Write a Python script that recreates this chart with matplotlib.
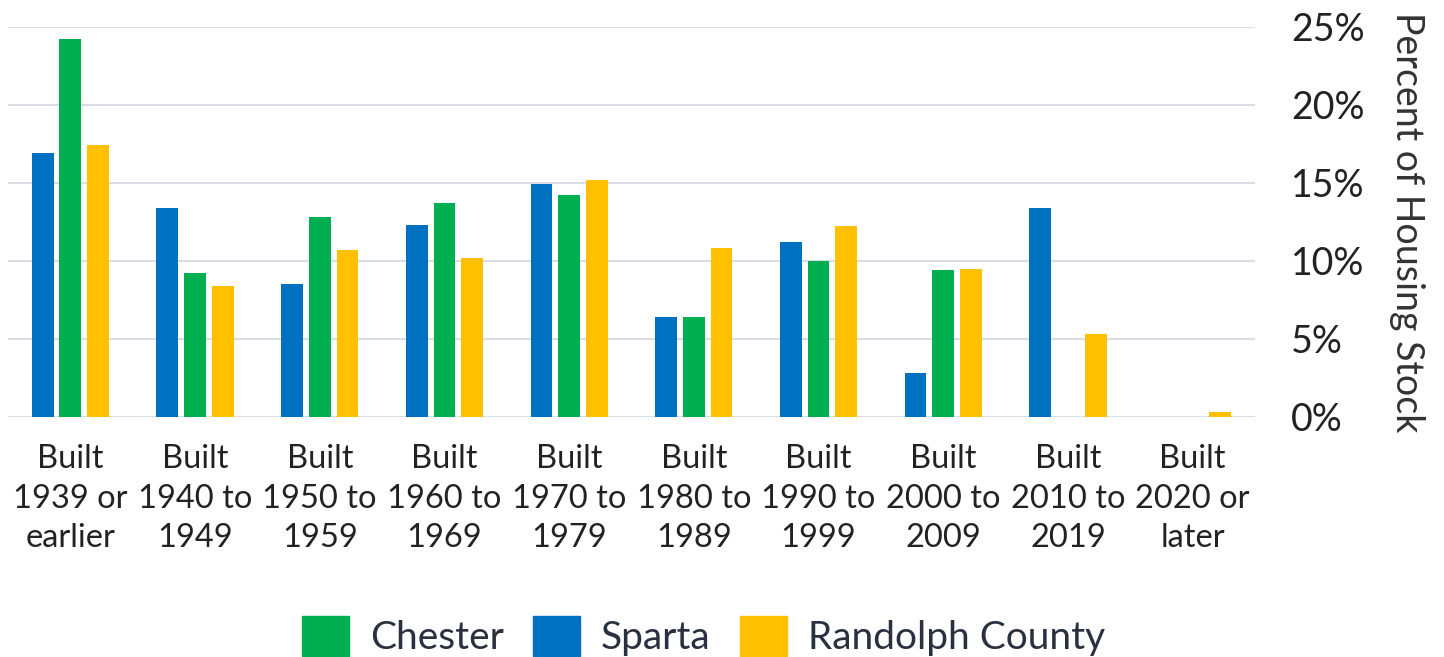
import numpy as np
import matplotlib.pyplot as plt
from matplotlib.patches import Patch

plt.rcParams['font.family'] = ['Lato', 'DejaVu Sans']

categories = ["Built\n1939 or\nearlier", "Built\n1940 to\n1949", "Built\n1950 to\n1959",
              "Built\n1960 to\n1969", "Built\n1970 to\n1979", "Built\n1980 to\n1989",
              "Built\n1990 to\n1999", "Built\n2000 to\n2009", "Built\n2010 to\n2019",
              "Built\n2020 or\nlater"]
sparta = [16.9, 13.4, 8.5, 12.3, 14.9, 6.4, 11.2, 2.8, 13.4, 0.0]
chester = [24.2, 9.2, 12.8, 13.7, 14.2, 6.4, 10.0, 9.4, 0.0, 0.0]
randolph = [17.4, 8.4, 10.7, 10.2, 15.2, 10.8, 12.2, 9.5, 5.3, 0.3]

BLUE = "#0070C0"
GREEN = "#00B050"
YELLOW = "#FFC000"

fig = plt.figure(figsize=(14.44, 6.57), dpi=100)
ax = fig.add_axes([8 / 1444, 1 - 416.7 / 657, (1255 - 8) / 1444, (416.7 - 26.7) / 657])

x = np.arange(len(categories))
w = 0.175
off = 0.222
ax.bar(x - off, sparta, w, color=BLUE, zorder=3)
ax.bar(x, chester, w, color=GREEN, zorder=3)
ax.bar(x + off, randolph, w, color=YELLOW, zorder=3)

ax.set_xlim(-0.5, len(categories) - 0.5)
ax.set_ylim(0, 25)
ax.set_yticks([0, 5, 10, 15, 20, 25])
ax.set_yticklabels([f"{v}%" for v in [0, 5, 10, 15, 20, 25]])
ax.yaxis.tick_right()
ax.tick_params(axis='y', length=0, pad=26, labelsize=27, labelcolor="#222222")
ax.set_xticks(x)
ax.set_xticklabels(categories, linespacing=1.39)
ax.tick_params(axis='x', length=0, pad=20, labelsize=23.5, labelcolor="#222222")
ax.grid(axis='y', color="#d9dde6", linewidth=1.5, zorder=0)
for s in ax.spines.values():
    s.set_visible(False)

fig.text(1407 / 1444, 1 - 221.7 / 657, "Percent of Housing Stock", rotation=270,
         ha='center', va='center', fontsize=27, color="#333333")

handles = [Patch(color=GREEN, label="Chester"),
           Patch(color=BLUE, label="Sparta"),
           Patch(color=YELLOW, label="Randolph County")]
leg = fig.legend(handles=handles, loc='center', bbox_to_anchor=(703.5 / 1444, 1 - 636 / 657),
                 ncol=3, frameon=False, fontsize=28, handlelength=1.21, handleheight=1.21,
                 handletextpad=0.54, columnspacing=0.75, borderaxespad=0, borderpad=0)
for t in leg.get_texts():
    t.set_color("#2a3040")

fig.savefig("out.png", dpi=100)
